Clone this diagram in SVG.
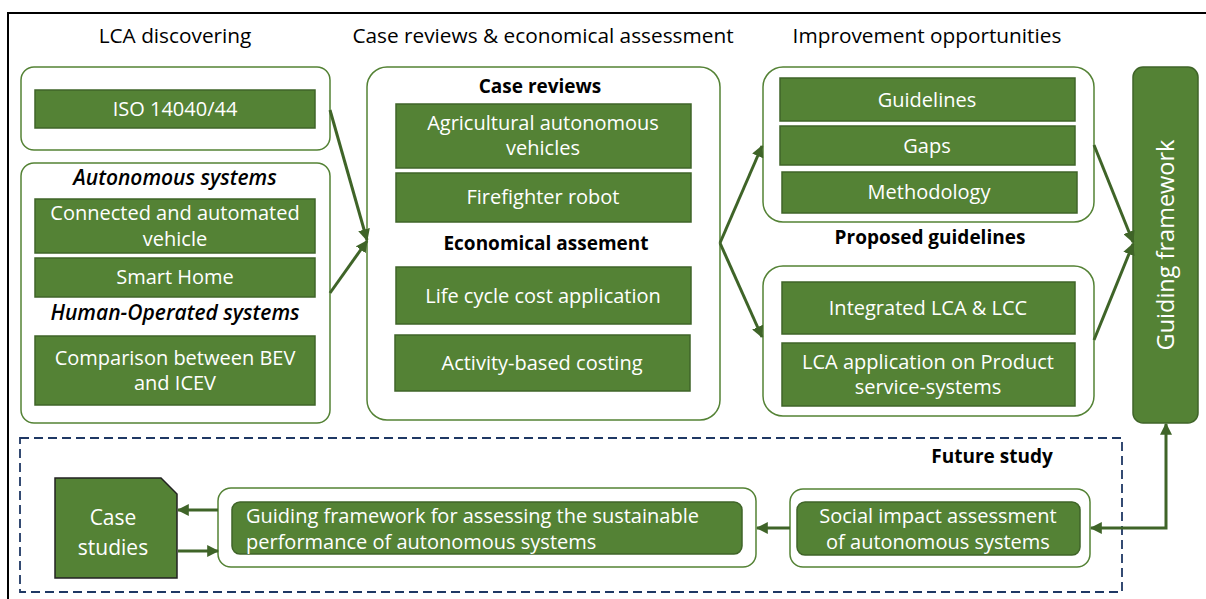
<svg xmlns="http://www.w3.org/2000/svg" width="1206" height="599" viewBox="0 0 1206 599">
<defs>
<style>
text{font-family:"Open Sans","Noto Sans","Liberation Sans",sans-serif;}
.h{font-size:20.8px;font-weight:500;fill:#000;text-anchor:middle;}
.hb{font-size:19px;font-weight:bold;fill:#000;text-anchor:middle;}
.hi{font-size:21px;font-weight:600;font-style:italic;fill:#000;text-anchor:middle;}
.t{font-size:20px;fill:#fff;text-anchor:middle;}
.tl{font-size:20px;fill:#fff;}
.g{fill:#548235;stroke:#3f6428;stroke-width:1.5;}
.box{fill:#fff;stroke:#548235;stroke-width:1.5;}
.c{stroke:#3f6428;stroke-width:3;fill:none;}
</style>
<marker id="ah" viewBox="0 0 10 10" refX="9" refY="5" markerWidth="4" markerHeight="4" orient="auto-start-reverse" markerUnits="strokeWidth">
<path d="M0,0 L10,5 L0,10 z" fill="#3f6428"/>
</marker>
</defs>
<rect width="1206" height="599" fill="#fff"/>
<path d="M8,599 V13 H1206" fill="none" stroke="#000" stroke-width="2"/>

<g id="headings">
<text class="h" x="175" y="43">LCA discovering</text>
<text class="h" x="543" y="43">Case reviews &amp; economical assessment</text>
<text class="h" x="927" y="43">Improvement opportunities</text>
</g>

<g id="lca-standards">
<rect class="box" x="21" y="67" width="309" height="83" rx="13"/>
<rect class="g" x="35" y="90" width="280" height="38"/>
<text class="t" x="175" y="116">ISO 14040/44</text>
</g>

<g id="lca-systems">
<rect class="box" x="21" y="163" width="309" height="260" rx="13"/>
<text class="hi" x="175" y="185">Autonomous systems</text>
<rect class="g" x="35" y="199" width="280" height="54"/>
<text class="t" x="175" y="220">Connected and automated</text>
<text class="t" x="175" y="246">vehicle</text>
<rect class="g" x="35" y="258" width="280" height="39"/>
<text class="t" x="175" y="284">Smart Home</text>
<text class="hi" x="175" y="320">Human-Operated systems</text>
<rect class="g" x="35" y="336" width="280" height="69"/>
<text class="t" x="175" y="365">Comparison between BEV</text>
<text class="t" x="175" y="390">and ICEV</text>
</g>

<g id="case-reviews">
<rect class="box" x="367" y="67" width="353" height="353" rx="20"/>
<text class="hb" x="540" y="93">Case reviews</text>
<rect class="g" x="396" y="104" width="295" height="64"/>
<text class="t" x="543" y="130">Agricultural autonomous</text>
<text class="t" x="543" y="155">vehicles</text>
<rect class="g" x="396" y="173" width="295" height="49"/>
<text class="t" x="543" y="204">Firefighter robot</text>
<text class="hb" x="546" y="250">Economical assement</text>
<rect class="g" x="396" y="267" width="295" height="57"/>
<text class="t" x="543" y="303">Life cycle cost application</text>
<rect class="g" x="395" y="335" width="295" height="56"/>
<text class="t" x="542" y="370">Activity-based costing</text>
</g>

<g id="improvement">
<rect class="box" x="763" y="67" width="331" height="155" rx="20"/>
<rect class="g" x="780" y="78" width="295" height="43"/>
<text class="t" x="927" y="107">Guidelines</text>
<rect class="g" x="780" y="126" width="295" height="39"/>
<text class="t" x="927" y="153">Gaps</text>
<rect class="g" x="782" y="172" width="295" height="41"/>
<text class="t" x="929" y="199">Methodology</text>
</g>

<g id="proposed">
<text class="hb" x="930" y="244">Proposed guidelines</text>
<rect class="box" x="763" y="266" width="331" height="150" rx="20"/>
<rect class="g" x="782" y="282" width="293" height="52"/>
<text class="t" x="928" y="315">Integrated LCA &amp; LCC</text>
<rect class="g" x="782" y="343" width="293" height="63"/>
<text class="t" x="928" y="369">LCA application on Product</text>
<text class="t" x="928" y="394">service-systems</text>
</g>

<g id="guiding-framework">
<rect class="g" x="1133" y="67" width="65" height="356" rx="10"/>
<text class="t" style="font-size:23.5px" transform="translate(1174,245) rotate(-90)">Guiding framework</text>
</g>

<g id="future-study">
<rect x="20" y="438" width="1102" height="154" fill="none" stroke="#1f3864" stroke-width="1.8" stroke-dasharray="9,5"/>
<text class="hb" x="992" y="463">Future study</text>
</g>

<g id="case-studies">
<path class="g" d="M55,478 H161 L177,494 V578 H55 Z" style="stroke:#222;"/>
<text class="t" style="font-size:21px" x="113" y="525">Case</text>
<text class="t" style="font-size:21px" x="113" y="555">studies</text>
</g>

<g id="framework-assessing">
<rect class="box" x="218" y="488" width="538" height="79" rx="13"/>
<rect class="g" x="232" y="502" width="510" height="52" rx="8"/>
<text class="tl" x="246" y="523">Guiding framework for assessing the sustainable</text>
<text class="tl" x="246" y="549">performance of autonomous systems</text>
</g>

<g id="social-impact">
<rect class="box" x="790" y="489" width="300" height="78" rx="13"/>
<rect class="g" x="797" y="502" width="283" height="53" rx="8"/>
<text class="t" x="938" y="523">Social impact assessment</text>
<text class="t" x="938" y="549">of autonomous systems</text>
</g>

<g id="connectors">
<line class="c" x1="330" y1="110" x2="367" y2="240" marker-end="url(#ah)"/>
<line class="c" x1="330" y1="293" x2="367" y2="241" marker-end="url(#ah)"/>
<line class="c" x1="720" y1="243" x2="762" y2="146" marker-end="url(#ah)"/>
<line class="c" x1="720" y1="243" x2="762" y2="337" marker-end="url(#ah)"/>
<line class="c" x1="1094" y1="145" x2="1133" y2="242" marker-end="url(#ah)"/>
<line class="c" x1="1094" y1="340" x2="1133" y2="244" marker-end="url(#ah)"/>
<path class="c" d="M1166,424 V528 H1091" marker-start="url(#ah)" marker-end="url(#ah)"/>
<line class="c" x1="790" y1="528" x2="757" y2="528" marker-end="url(#ah)"/>
<line class="c" x1="218" y1="510" x2="178" y2="510" marker-end="url(#ah)"/>
<line class="c" x1="178" y1="551" x2="218" y2="551" marker-end="url(#ah)"/>
</g>
</svg>
